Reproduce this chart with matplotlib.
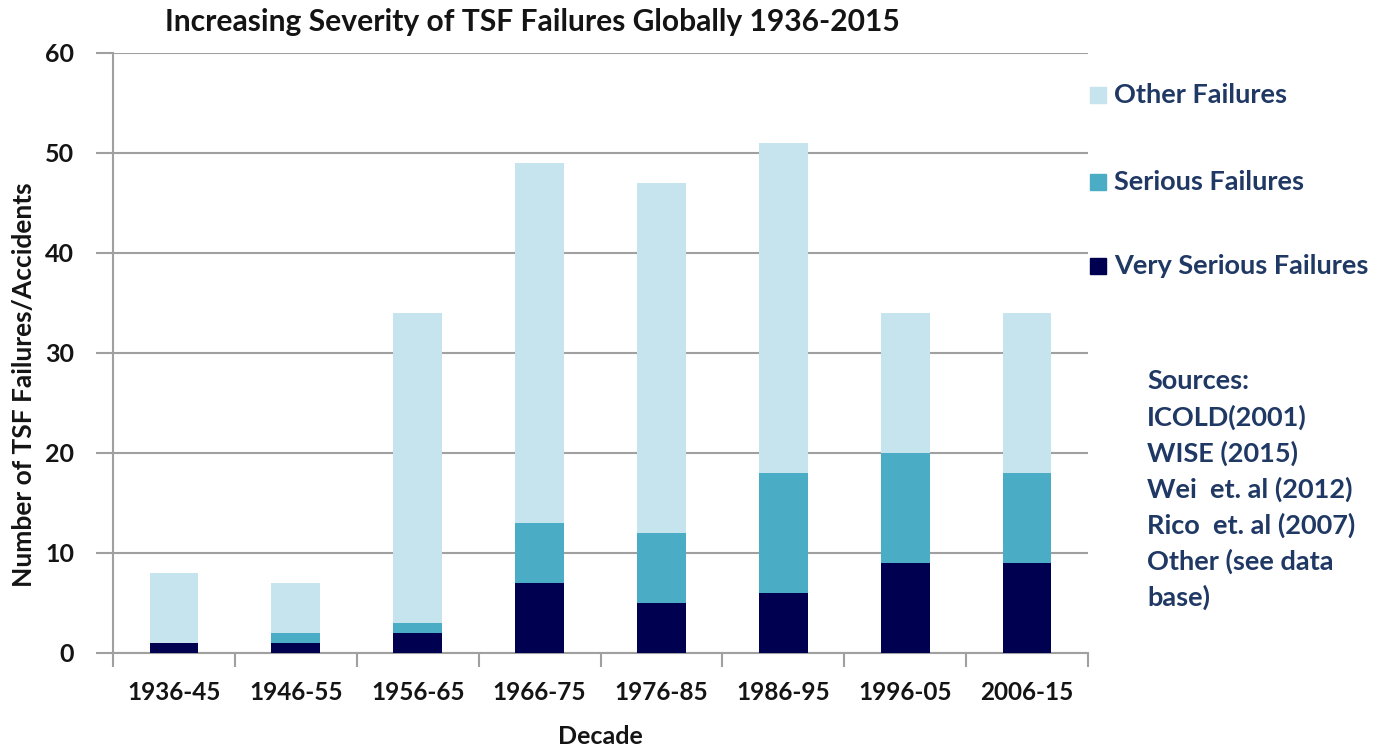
import matplotlib
matplotlib.use("Agg")
import matplotlib.pyplot as plt
from matplotlib.patches import Rectangle
import numpy as np

decades = ["1936-45", "1946-55", "1956-65", "1966-75", "1976-85", "1986-95", "1996-05", "2006-15"]
very_serious = [1, 1, 2, 7, 5, 6, 9, 9]
serious = [0, 1, 1, 6, 7, 12, 11, 9]
other = [7, 5, 31, 36, 35, 33, 14, 16]

series_names = ["Other Failures", "Serious Failures", "Very Serious Failures"]
sources = ["Sources:", "ICOLD(2001)", "WISE (2015)", "Wei  et. al (2012)",
           "Rico  et. al (2007)", "Other (see data", "base)"]

c_other = "#C6E4EE"
c_serious = "#4BACC6"
c_very = "#000050"
txt = "#1F3864"
dark = "#141414"

plt.rcParams['font.family'] = ['Lato', 'DejaVu Sans']
plt.rcParams['font.weight'] = 'bold'

fig = plt.figure(figsize=(13.87, 7.48), dpi=100)
ax = fig.add_axes([113/1387, 1-653/748, (1088-113)/1387, 600/748])

x = np.arange(len(decades))
w = 0.4
vs = np.array(very_serious)
se = np.array(serious)
ot = np.array(other)
ax.bar(x, vs, w, color=c_very, zorder=3)
ax.bar(x, se, w, bottom=vs, color=c_serious, zorder=3)
ax.bar(x, ot, w, bottom=vs+se, color=c_other, zorder=3)

ax.set_xlim(-0.5, len(decades)-0.5)
ax.set_ylim(0, 60)
ax.set_yticks(range(0, 61, 10))
ax.yaxis.grid(True, color="#a0a0a0", linewidth=1.5, zorder=0)
ax.set_axisbelow(True)

ax.set_xticks(x)
ax.set_xticklabels(decades, fontsize=17.5, color=dark, fontweight='bold')
ax.tick_params(axis='x', length=0, pad=20)
ax.set_xticks(np.arange(-0.5, len(decades)), minor=True)
ax.tick_params(axis='x', which='minor', length=10, width=1.5, color="#a0a0a0")
ax.tick_params(axis='y', length=12, width=1.5, color="#a0a0a0", labelsize=18, labelcolor=dark, pad=16)
for lab in ax.get_yticklabels():
    lab.set_fontweight('bold')

for s in ['top', 'right']:
    ax.spines[s].set_visible(False)
for s in ['left', 'bottom']:
    ax.spines[s].set_color("#a0a0a0")
    ax.spines[s].set_linewidth(1.5)

fig.text(532/1387, 1-22/748, "Increasing Severity of TSF Failures Globally 1936-2015",
         ha='center', va='center', fontsize=21.6, color=dark, fontweight='bold')
fig.text(600/1387, 1-737/748, "Decade", ha='center', va='center', fontsize=18,
         color=dark, fontweight='bold')
fig.text(24/1387, 1-385/748, "Number of TSF Failures/Accidents", ha='center', va='center',
         rotation=90, fontsize=19, color=dark, fontweight='bold')

# legend
leg_y = [95, 182, 266]
leg_c = [c_other, c_serious, c_very]
for name, yy, cc in zip(series_names, leg_y, leg_c):
    fig.patches.append(Rectangle((1090/1387, 1-(yy+8)/748), 16/1387, 16/748,
                                 transform=fig.transFigure, color=cc))
    fig.text(1114/1387, 1-yy/748, name, ha='left', va='center', fontsize=19.5,
             color=txt, fontweight='bold')

for i, line in enumerate(sources):
    fig.text(1147/1387, 1-(381+36*i)/748, line, ha='left', va='center', fontsize=19.5,
             color=txt, fontweight='bold')

fig.savefig("out.png", dpi=100)
